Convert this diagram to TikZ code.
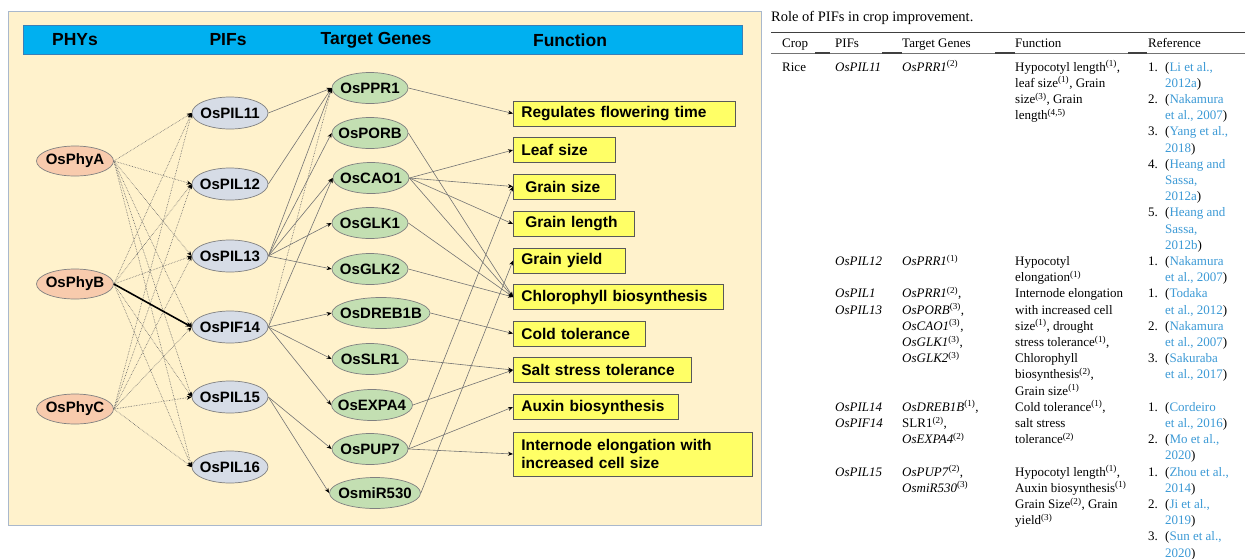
\documentclass[tikz,border=0pt]{standalone}
\usepackage{fontspec}
\setmainfont{Liberation Serif}
\setsansfont{Liberation Sans}
\usepackage{array}
\usetikzlibrary{shapes.geometric,arrows.meta}
\definecolor{panelbg}{HTML}{FFF2CC}
\definecolor{panelbd}{HTML}{A9B8CC}
\definecolor{barblue}{HTML}{00B0F0}
\definecolor{barbd}{HTML}{3A7FB8}
\definecolor{phyfill}{HTML}{F8CBAD}
\definecolor{piffill}{HTML}{D6DCE6}
\definecolor{genefill}{HTML}{C3DFB2}
\definecolor{fnyellow}{HTML}{FFFF66}
\definecolor{refblue}{HTML}{3C9AD6}
\newcommand{\ctr}[1]{\makebox[0pt]{#1}}
\newcommand{\refb}[1]{\textcolor{refblue}{#1}}
\newcommand{\su}[1]{\textsuperscript{(#1)}}
\begin{document}
\begin{tikzpicture}[x=1pt,y=-1pt,
  phy/.style={ellipse, draw=black!50, line width=0.7pt, fill=phyfill, minimum width=77pt, minimum height=30pt, inner sep=0pt, font=\sffamily\bfseries\fontsize{15}{15}\selectfont},
  pif/.style={phy, fill=piffill, minimum width=76pt, minimum height=32pt},
  gene/.style={phy, fill=genefill, minimum width=76pt, minimum height=31pt},
  fn/.style={draw=black!65, fill=fnyellow, line width=0.8pt, anchor=west, minimum height=25pt, inner xsep=8pt, inner ysep=0pt, align=left, font=\sffamily\bfseries\fontsize{15.5}{18}\selectfont},
  hdr/.style={font=\sffamily\bfseries\fontsize{17.5}{17.5}\selectfont, inner sep=0pt},
  ln/.style={draw=black!55, line width=0.6pt, -{Stealth[length=5pt,width=4pt,color=black]}},
  dln/.style={ln, densely dotted, draw=black!60},
  bln/.style={draw=black, line width=1.6pt, -{Stealth[length=6pt,width=5pt]}},
]
\useasboundingbox (0,0) rectangle (1245,558);
\fill[white] (0,0) rectangle (1245,558);
% panel
\draw[draw=panelbd, fill=panelbg, line width=1pt] (8,11) rectangle (761,525);
\draw[draw=barbd, fill=barblue, line width=0.8pt] (23,25) rectangle (742,54);
\node[hdr] (h1) at (75,40) {PHYs};
\node[hdr] (h2) at (228,40) {PIFs};
\node[hdr] (h3) at (376,40) {Target Genes};
\node[hdr] (h4) at (570,40) {Function};
% PHYs
\node[phy] (phyA) at (75,161) {\ctr{OsPhyA}};
\node[phy] (phyB) at (75,284) {\ctr{OsPhyB}};
\node[phy] (phyC) at (75,409) {\ctr{OsPhyC}};
% PIFs
\node[pif] (p11) at (230,113) {\ctr{OsPIL11}};
\node[pif] (p12) at (230,184) {\ctr{OsPIL12}};
\node[pif] (p13) at (230,256) {\ctr{OsPIL13}};
\node[pif] (p14) at (230,327) {\ctr{OsPIF14}};
\node[pif] (p15) at (230,397) {\ctr{OsPIL15}};
\node[pif] (p16) at (230,467) {\ctr{OsPIL16}};
% targets
\node[gene] (g1) at (370,88) {\ctr{OsPPR1}};
\node[gene] (g2) at (370,133) {\ctr{OsPORB}};
\node[gene] (g3) at (371,178) {\ctr{OsCAO1}};
\node[gene] (g4) at (370,223) {\ctr{OsGLK1}};
\node[gene] (g5) at (370,269) {\ctr{OsGLK2}};
\node[gene, minimum width=98pt] (g6) at (381,313) {\ctr{OsDREB1B}};
\node[gene] (g7) at (370,359) {\ctr{OsSLR1}};
\node[gene, minimum width=81pt] (g8) at (372,405) {\ctr{OsEXPA4}};
\node[gene] (g9) at (370,449) {\ctr{OsPUP7}};
\node[gene, minimum width=91pt] (g10) at (375,493) {\ctr{OsmiR530}};
% functions
\node[fn, text width=206pt] (f1) at (513,113.5) {Regulates flowering time};
\node[fn, text width=86pt] (f2) at (513,150) {Leaf size};
\node[fn, text width=86pt] (f3) at (513,186.5) {\hspace{4pt}Grain size};
\node[fn, text width=105pt] (f4) at (513,224) {\hspace{4pt}Grain length};
\node[fn, text width=96pt] (f5) at (513,260.5) {Grain yield};
\node[fn, text width=194pt] (f6) at (513,297) {Chlorophyll biosynthesis};
\node[fn, text width=116pt] (f7) at (513,333.5) {Cold tolerance};
\node[fn, text width=162pt] (f8) at (513,370) {Salt stress tolerance};
\node[fn, text width=149pt] (f9) at (513,407) {Auxin biosynthesis};
\node[fn, text width=223pt, minimum height=44pt] (f10) at (513,454) {Internode elongation with\\increased cell size};
% PHY -> PIF
\foreach \a in {phyA,phyB,phyC}{
  \foreach \b in {p11,p12,p13,p15,p16}{
    \draw[dln] (\a.east) -- (\b.west);
  }
}
\draw[dln] (phyA.east) -- (p14.west);
\draw[dln] (phyC.east) -- (p14.west);
\draw[bln] (phyB.east) -- (p14.west);
% PIF -> targets
\draw[ln] (p11.east) -- (g1.west);
\draw[ln] (p12.east) -- (g1.west);
\foreach \g in {g1,g2,g3,g4,g5}{ \draw[ln] (p13.east) -- (\g.west); }
\draw[dln] (p14.east) -- (g1.west);
\foreach \g in {g3,g6,g7,g8}{ \draw[ln] (p14.east) -- (\g.west); }
\draw[ln] (p15.east) -- (g9.west);
\draw[ln] (p15.east) -- (g10.west);
% targets -> functions
\draw[ln] (g1.east) -- (f1.west);
\draw[ln] (g2.east) -- (f6.west);
\foreach \f in {f2,f3,f4,f6}{ \draw[ln] (g3.east) -- (\f.west); }
\draw[ln] (g4.east) -- (f6.west);
\draw[ln] (g5.east) -- (f6.west);
\draw[ln] (g6.east) -- (f7.west);
\draw[ln] (g7.east) -- (f8.west);
\draw[ln] (g8.east) -- (f8.west);
\foreach \f in {f3,f9,f10}{ \draw[ln] (g9.east) -- (\f.west); }
\draw[ln] (g10.east) -- (f5.west);
% table
\node[anchor=base west, inner sep=0pt, font=\fontsize{14.5}{16}\selectfont] (title) at (771,21) {Role of PIFs in crop improvement.};
\draw[black!75, line width=0.9pt] (771,32) -- (1245,32);
\node[anchor=base west, inner sep=0pt, font=\fontsize{13}{16.2}\selectfont] (thead) at (782,47) {%
\begin{tabular}[t]{@{}p{53pt}@{}p{67pt}@{}p{113pt}@{}p{133pt}@{}p{17pt}@{}p{80pt}@{}}
Crop & PIFs & Target Genes & Function & \multicolumn{2}{@{}l@{}}{Reference}
\end{tabular}};
\draw[black!55, line width=0.5pt] (771,53) -- (1245,53);
\foreach \xa/\xb in {815/830,882/902,995/1015,1128/1147}{
  \draw[black!75, line width=1.2pt] (\xa,53) -- (\xb,53);
}
\node[anchor=base west, inner sep=0pt, font=\fontsize{13}{16.2}\selectfont] (tbody) at (782,71) {%
\begin{tabular}[t]{@{}p{53pt}@{}p{67pt}@{}p{113pt}@{}p{133pt}@{}p{17pt}@{}p{80pt}@{}}
Rice & \textit{OsPIL11} & \textit{OsPRR1}\su{2} & Hypocotyl length\su{1}, & 1. & (\refb{Li et al.,}\\
 & & & leaf size\su{1}, Grain & & \refb{2012a})\\
 & & & size\su{3}, Grain & 2. & (\refb{Nakamura}\\
 & & & length\su{4,5} & & \refb{et al., 2007})\\
 & & & & 3. & (\refb{Yang et al.,}\\
 & & & & & \refb{2018})\\
 & & & & 4. & (\refb{Heang and}\\
 & & & & & \refb{Sassa,}\\
 & & & & & \refb{2012a})\\
 & & & & 5. & (\refb{Heang and}\\
 & & & & & \refb{Sassa,}\\
 & & & & & \refb{2012b})\\
 & \textit{OsPIL12} & \textit{OsPRR1}\su{1} & Hypocotyl & 1. & (\refb{Nakamura}\\
 & & & elongation\su{1} & & \refb{et al., 2007})\\
 & \textit{OsPIL1} & \textit{OsPRR1}\su{2}, & Internode elongation & 1. & (\refb{Todaka}\\
 & \textit{OsPIL13} & \textit{OsPORB}\su{3}, & with increased cell & & \refb{et al., 2012})\\
 & & \textit{OsCAO1}\su{3}, & size\su{1}, drought & 2. & (\refb{Nakamura}\\
 & & \textit{OsGLK1}\su{3}, & stress tolerance\su{1}, & & \refb{et al., 2007})\\
 & & \textit{OsGLK2}\su{3} & Chlorophyll & 3. & (\refb{Sakuraba}\\
 & & & biosynthesis\su{2}, & & \refb{et al., 2017})\\
 & & & Grain size\su{1} & & \\
 & \textit{OsPIL14} & \textit{OsDREB1B}\su{1}, & Cold tolerance\su{1}, & 1. & (\refb{Cordeiro}\\
 & \textit{OsPIF14} & SLR1\su{2}, & salt stress & & \refb{et al., 2016})\\
 & & \textit{OsEXPA4}\su{2} & tolerance\su{2} & 2. & (\refb{Mo et al.,}\\
 & & & & & \refb{2020})\\
 & \textit{OsPIL15} & \textit{OsPUP7}\su{2}, & Hypocotyl length\su{1}, & 1. & (\refb{Zhou et al.,}\\
 & & \textit{OsmiR530}\su{3} & Auxin biosynthesis\su{1} & & \refb{2014})\\
 & & & Grain Size\su{2}, Grain & 2. & (\refb{Ji et al.,}\\
 & & & yield\su{3} & & \refb{2019})\\
 & & & & 3. & (\refb{Sun et al.,}\\
 & & & & & \refb{2020})
\end{tabular}};
\end{tikzpicture}
\end{document}
